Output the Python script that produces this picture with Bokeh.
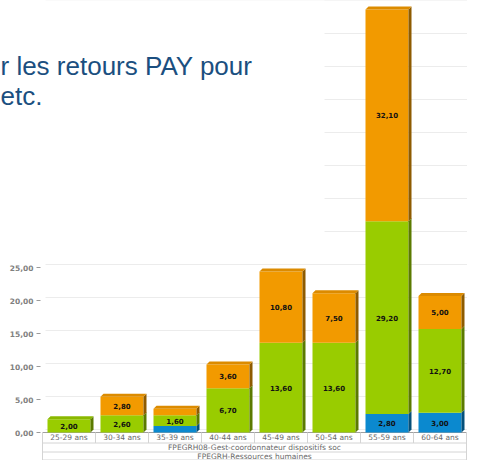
from bokeh.plotting import figure
from bokeh.models import Range1d, BoxAnnotation
from bokeh.core.properties import value
from bokeh.embed import file_html
from bokeh.resources import INLINE

# ---------------- data ----------------
categories = ["25-29 ans", "30-34 ans", "35-39 ans", "40-44 ans",
              "45-49 ans", "50-54 ans", "55-59 ans", "60-64 ans"]
blue = [0.00, 0.00, 1.00, 0.00, 0.00, 0.00, 2.80, 3.00]
green = [2.00, 2.60, 1.60, 6.70, 13.60, 13.60, 29.20, 12.70]
orange = [0.00, 2.80, 1.00, 3.60, 10.80, 7.50, 32.10, 5.00]
y_ticks = [0, 5, 10, 15, 20, 25]
y_tick_labels = ["0,00", "5,00", "10,00", "15,00", "20,00", "25,00"]
grid_values = [0, 5, 10, 15, 20, 25, 30, 35, 40, 45, 50, 55, 60, 65]
group_label = "FPEGRH08-Gest-coordonnateur dispositifs soc"
parent_label = "FPEGRH-Ressources humaines"
slide_lines = ["r les retours PAY pour", "etc."]

# ---------------- layout ----------------
W, H = 467, 460
LEFT = 42          # px from figure left to category origin
CAT_PX = 53.0      # px per category
UNIT_PX = 6.6      # px per value unit
ZERO_Y = 432       # px from top where value 0 sits
DX = 3 / CAT_PX
DY = 3 / UNIT_PX
ROW1, ROW2, ROW3 = 10.5 / UNIT_PX, 19.5 / UNIT_PX, 27.5 / UNIT_PX

x_start = -LEFT / CAT_PX
x_end = (W - LEFT) / CAT_PX
y_top = ZERO_Y / UNIT_PX
p = figure(width=W, height=H, output_backend="svg", toolbar_location=None,
           x_range=Range1d(x_start, x_end),
           y_range=Range1d(-(H - ZERO_Y) / UNIT_PX, y_top),
           x_axis_location=None, y_axis_location=None, min_border=0)
p.outline_line_color = None
p.xgrid.visible = False
p.ygrid.visible = False
p.background_fill_color = "white"
p.border_fill_color = "white"

# back-wall gridlines
p.segment(x0=[DX] * len(grid_values), x1=[x_end] * len(grid_values),
          y0=[v + DY for v in grid_values], y1=[v + DY for v in grid_values],
          line_color="#ececec", line_width=1)

# value axis: ticks and labels
p.segment(x0=[-6 / CAT_PX] * len(y_ticks), x1=[-2 / CAT_PX] * len(y_ticks),
          y0=y_ticks, y1=y_ticks, line_color="#9a9a9a", line_width=1)
p.text(x=[-9 / CAT_PX] * len(y_ticks), y=y_ticks, text=y_tick_labels,
       text_align="right", text_baseline="middle", text_font=value("DejaVu Sans"),
       text_font_style="bold", text_font_size="7.5px", text_color="#808080")

# baseline
p.segment(x0=[0], x1=[len(categories)], y0=[0], y1=[0], line_color="#a0a0a0", line_width=1)

# stacked 3D bars
series = [(blue, "#0B89CF", "#05507A", "#0A78B8"),
          (green, "#99CC00", "#5B7A00", "#8AB800"),
          (orange, "#F29A00", "#8E5B00", "#DC8B00")]
fl, fr = 5 / CAT_PX, 48 / CAT_PX
lab_x, lab_y, lab_t = [], [], []
for i in range(len(categories)):
    base = 0.0
    top_color = None
    for vals, c, cs, ct in series:
        v = vals[i]
        if v <= 0:
            continue
        l, r = i + fl, i + fr
        b, t = base, base + v
        p.quad(left=[l], right=[r], bottom=[b], top=[t], fill_color=c, line_color=None)
        p.patch(x=[r, r + DX, r + DX, r], y=[b, b + DY, t + DY, t], fill_color=cs, line_color=None)
        if v >= 1.5:
            lab_x.append(i + (fl + fr) / 2)
            lab_y.append((b + t) / 2)
            lab_t.append(f"{v:.2f}".replace(".", ","))
        base = t
        top_color = ct
    l, r = i + fl, i + fr
    p.patch(x=[l, l + DX, r + DX, r], y=[base, base + DY, base + DY, base],
            fill_color=top_color, line_color=None)

p.text(x=lab_x, y=lab_y, text=lab_t, text_align="center", text_baseline="middle",
       text_font=value("DejaVu Sans"), text_font_style="bold", text_font_size="7px",
       text_color="#111111")

# category table
n = len(categories)
p.segment(x0=list(range(n + 1)), x1=list(range(n + 1)), y0=[0] * (n + 1), y1=[-ROW1] * (n + 1),
          line_color="#d4d4d4", line_width=1)
p.segment(x0=[0, n], x1=[0, n], y0=[-ROW1, -ROW1], y1=[-ROW3, -ROW3],
          line_color="#d4d4d4", line_width=1)
p.segment(x0=[0, 0, 0], x1=[n, n, n], y0=[-ROW1, -ROW2, -ROW3], y1=[-ROW1, -ROW2, -ROW3],
          line_color="#d4d4d4", line_width=1)
p.text(x=[i + 0.5 for i in range(n)], y=[-ROW1 / 2] * n, text=categories,
       text_align="center", text_baseline="middle", text_font=value("DejaVu Sans"),
       text_font_size="7.5px", text_color="#6a6a6a")
p.text(x=[n / 2, n / 2], y=[-(ROW1 + ROW2) / 2, -(ROW2 + ROW3) / 2],
       text=[group_label, parent_label], text_align="center", text_baseline="middle",
       text_font=value("DejaVu Sans"), text_font_size="7.5px", text_color="#6a6a6a")

# slide text box overlapping the chart
p.add_layout(BoxAnnotation(left=x_start, right=(332 - 50) / CAT_PX,
                           bottom=(ZERO_Y - 250) / UNIT_PX, top=y_top + 5,
                           fill_color="white", fill_alpha=1, line_color=None))
p.text(x=[x_start] * len(slide_lines),
       y=[(ZERO_Y - 65 - 30 * k) / UNIT_PX for k in range(len(slide_lines))],
       text=slide_lines, text_align="left", text_baseline="alphabetic",
       text_font=value("Liberation Sans"), text_font_size="26px", text_color="#1b4f80",
       level="overlay")

open("out.html", "w").write(file_html(p, INLINE))
